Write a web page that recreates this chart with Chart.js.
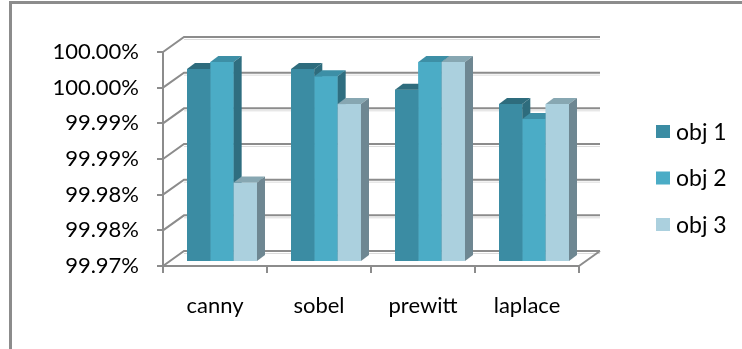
<!DOCTYPE html>
<html>
<head>
<meta charset="utf-8">
<script src="https://cdn.jsdelivr.net/npm/chart.js@4.4.1/dist/chart.umd.min.js"></script>
<style>
    html, body { margin: 0; padding: 0; background: #fff; overflow: hidden; }
    #wrap { position: relative; width: 742px; height: 349px; overflow: hidden; }
    #frame { position: absolute; left: 9px; top: 1px; width: 800px; height: 400px; border: 3px solid #8c8c8c; }
    canvas { position: absolute; left: 0; top: 0; }
</style>
</head>
<body>
<div id="wrap">
    <div id="frame"></div>
    <canvas id="barChart" width="742" height="349"></canvas>
</div>
<script>
// =====================
// Edge detectors - 3D column chart
// =====================

const categories = ["canny", "sobel", "prewitt", "laplace"];
const seriesNames = ["obj 1", "obj 2", "obj 3"];
const obj1 = [99.9969, 99.9969, 99.9940, 99.9920];
const obj2 = [99.9979, 99.9959, 99.9979, 99.9899];
const obj3 = [99.9810, 99.9920, 99.9979, 99.9920];
const yTickLabels = ["99.97%", "99.98%", "99.98%", "99.99%", "99.99%", "100.00%", "100.00%"];

const GRID = "#8c8c8c";
const FONT = "Lato";

// depth of walls / floor and of each column
const WALL_DX = 21, WALL_DY = 15;
const BAR_SHIFT_X = 7, BAR_SHIFT_Y = 5;
const BAR_DX = 8, BAR_DY = 6;

// === back wall, side wall and floor ===
const walls3d = {
    id: "walls3d",
    beforeDatasetsDraw(chart) {
        const { ctx, chartArea: a, scales: { y } } = chart;
        ctx.save();
        y.ticks.forEach((t) => {
            const py = y.getPixelForValue(t.value);
            ctx.strokeStyle = "#dcdcdc";
            ctx.lineWidth = 1;
            ctx.beginPath();
            ctx.moveTo(a.left + WALL_DX, py - WALL_DY + 2.5);
            ctx.lineTo(a.right + WALL_DX, py - WALL_DY + 2.5);
            ctx.stroke();
            ctx.strokeStyle = GRID;
            ctx.lineWidth = 2;
            ctx.beginPath();
            ctx.moveTo(a.left, py);
            ctx.lineTo(a.left + WALL_DX, py - WALL_DY);
            ctx.lineTo(a.right + WALL_DX, py - WALL_DY);
            ctx.stroke();
        });
        ctx.beginPath();
        ctx.moveTo(a.right, a.bottom);
        ctx.lineTo(a.right + WALL_DX, a.bottom - WALL_DY);
        ctx.stroke();
        ctx.restore();
    },
    // columns stand a bit behind the front edge of the floor
    beforeDatasetDraw(chart) {
        chart.ctx.save();
        chart.ctx.translate(BAR_SHIFT_X, -BAR_SHIFT_Y);
    },
    afterDatasetDraw(chart) {
        chart.ctx.restore();
    },
    // front, top and side faces, obj 1 first so the next column covers its side
    afterDatasetsDraw(chart) {
        const { ctx, chartArea: a } = chart;
        ctx.save();
        ctx.translate(BAR_SHIFT_X, -BAR_SHIFT_Y);
        chart.data.datasets.forEach((ds, i) => {
            chart.getDatasetMeta(i).data.forEach((bar) => {
                const { x, y, width } = bar.getProps(["x", "y", "width"], true);
                const base = a.bottom;
                const l = x - width / 2, r = x + width / 2;
                ctx.fillStyle = ds.backgroundColor;
                ctx.fillRect(l, y, width, base - y);
                ctx.fillStyle = ds.topColor;
                ctx.beginPath();
                ctx.moveTo(l, y);
                ctx.lineTo(l + BAR_DX, y - BAR_DY);
                ctx.lineTo(r + BAR_DX, y - BAR_DY);
                ctx.lineTo(r, y);
                ctx.closePath();
                ctx.fill();
                ctx.fillStyle = ds.sideColor;
                ctx.beginPath();
                ctx.moveTo(r, y);
                ctx.lineTo(r + BAR_DX, y - BAR_DY);
                ctx.lineTo(r + BAR_DX, base - BAR_DY);
                ctx.lineTo(r, base);
                ctx.closePath();
                ctx.fill();
            });
        });
        ctx.restore();
    },
};

// === legend on the right ===
const sideLegend = {
    id: "sideLegend",
    afterDraw(chart) {
        const ctx = chart.ctx;
        ctx.save();
        ctx.font = "23px " + FONT;
        ctx.textBaseline = "middle";
        chart.data.datasets.forEach((ds, i) => {
            const cy = 131.5 + i * 46.5;
            ctx.fillStyle = ds.backgroundColor;
            ctx.fillRect(656, cy - 6.5, 14, 13);
            ctx.fillStyle = "#000";
            ctx.fillText(ds.label, 676, cy + 1);
        });
        ctx.restore();
    },
};

const ctx = document.getElementById("barChart").getContext("2d");
new Chart(ctx, {
    type: "bar",
    data: {
        labels: categories,
        datasets: [{
            label: seriesNames[0],
            data: obj1,
            backgroundColor: "#3b8ca3",
            topColor: "#2e6c7d",
            sideColor: "#2e6c7d",
        }, {
            label: seriesNames[1],
            data: obj2,
            backgroundColor: "#4bacc6",
            topColor: "#3d8fa6",
            sideColor: "#2f6e80",
        }, {
            label: seriesNames[2],
            data: obj3,
            backgroundColor: "#abd0de",
            topColor: "#87a7b2",
            sideColor: "#6e8792",
        }],
    },
    options: {
        responsive: false,
        animation: false,
        devicePixelRatio: 1,
        layout: { padding: { left: 0, top: 52, right: 163, bottom: 0 } },
        datasets: {
            bar: { categoryPercentage: 0.673, barPercentage: 1, borderWidth: 0 },
        },
        scales: {
            x: {
                grid: { drawOnChartArea: false, tickLength: 7, color: GRID, lineWidth: 2 },
                border: { color: GRID, width: 2 },
                ticks: { color: "#000", font: { family: FONT, size: 22 }, padding: 20 },
                afterFit: (s) => { s.height = 83; },
            },
            y: {
                min: 99.97,
                max: 100,
                grid: { drawOnChartArea: false, tickLength: 6, color: GRID, lineWidth: 2 },
                border: { color: GRID, width: 2 },
                ticks: {
                    stepSize: 0.005,
                    color: "#000",
                    font: { family: FONT, size: 22 },
                    padding: 18,
                    callback: (v, i) => yTickLabels[i],
                },
                afterFit: (s) => { s.width = 163; },
            },
        },
        plugins: {
            legend: { display: false },
            tooltip: { enabled: false },
        },
    },
    plugins: [walls3d, sideLegend],
});
</script>
</body>
</html>
